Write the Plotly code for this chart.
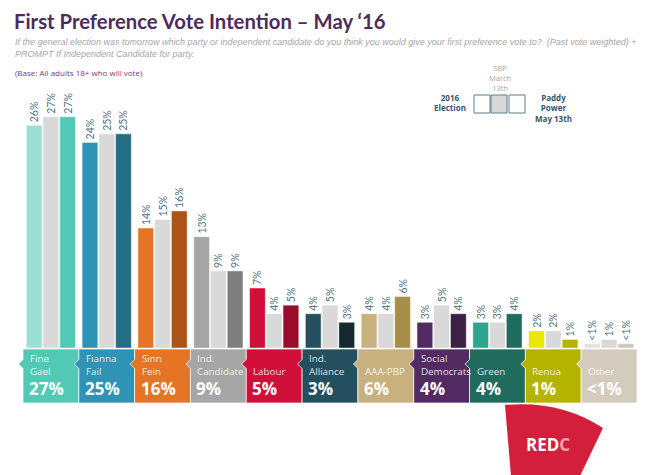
import plotly.graph_objects as go

# ---------------- data ----------------
parties = ["Fine Gael", "Fianna Fail", "Sinn Fein", "Ind. Candidate", "Labour",
           "Ind. Alliance", "AAA-PBP", "Social Democrats", "Green", "Renua", "Other"]
party_box_labels = ["Fine<br>Gael", "Fianna<br>Fail", "Sinn<br>Fein", "Ind.<br>Candidate", "Labour",
                    "Ind.<br>Alliance", "AAA-PBP", "Social<br>Democrats", "Green", "Renua", "Other"]
election_2016 = [26, 24, 14, 13, 7, 4, 4, 3, 3, 2, 0.5]
sbp_march_13 = [27, 25, 15, 9, 4, 5, 4, 5, 3, 2, 1]
paddy_power_may_13 = [27, 25, 16, 9, 5, 3, 6, 4, 4, 1, 0.5]
series_names = ["2016 Election", "SBP March 13th", "Paddy Power May 13th"]

election_colors = ["#9be0d3", "#2e93b4", "#e57424", "#a6a6a6", "#d11039", "#234f5f",
                   "#c9b17f", "#532b62", "#2fa38e", "#e8e800", "#e6e1d9"]
sbp_color = "#d9d9d9"
pp_colors = ["#52c9b4", "#236f86", "#ad5316", "#7f7f7f", "#9b0b2a", "#142a33",
             "#a88e4b", "#3d2046", "#1f6b5d", "#b4b400", "#cfc6b8"]
box_colors = ["#52c9b4", "#2e93b4", "#e57424", "#a6a6a6", "#d11039", "#234f5f",
              "#c9b17f", "#532b62", "#206b5e", "#b4b400", "#d3cbbe"]


def lab(v):
    return "<1%" if v < 1 else f"{v:g}%"


# ---------------- geometry helpers ----------------
W, H = 650, 475
ML, MR, MT, MB = 23, 13, 91, 127
PW, PH = W - ML - MR, H - MT - MB
N = len(parties)


def px(x):
    return (x - ML) / PW


def py(y):
    return (H - MB - y) / PH


x = list(range(N))
fig = go.Figure()
label_font = dict(family="Lato, sans-serif", size=10.5, color="#557585")
for name, vals, col in [(series_names[0], election_2016, election_colors),
                        (series_names[1], sbp_march_13, [sbp_color] * N),
                        (series_names[2], paddy_power_may_13, pp_colors)]:
    fig.add_trace(go.Bar(
        x=x, y=vals, name=name,
        marker=dict(color=col, line=dict(color="rgba(255,255,255,0.45)", width=1)),
        text=[lab(v) for v in vals], textposition="outside", textangle=-90,
        textfont=label_font, constraintext="none", cliponaxis=False,
        showlegend=False, hoverinfo="skip"))

shapes = []
annotations = []

# category boxes below the bars
top_y, bot_y, mid_y = py(349), py(403), py(364)
notch_w = 4.5 / PW
notch_h = 4.5 / PH
for i in range(N):
    l = i / N
    r = (i + 1) / N
    path = (f"M {l},{top_y} L {r},{top_y} L {r},{bot_y} L {l},{bot_y} "
            f"L {l},{mid_y - notch_h} L {l - notch_w},{mid_y} L {l},{mid_y + notch_h} Z")
    shapes.append(dict(type="path", xref="paper", yref="paper", path=path,
                       fillcolor=box_colors[i], line=dict(color="rgba(255,255,255,0.7)", width=1),
                       layer="above"))
    annotations.append(dict(xref="paper", yref="paper", x=l + 5 / PW, y=py(380),
                            xanchor="left", yanchor="bottom", showarrow=False, align="left",
                            text=party_box_labels[i],
                            font=dict(family="Open Sans, sans-serif", size=9.8,
                                      color="rgba(255,255,255,0.85)")))
    annotations.append(dict(xref="paper", yref="paper", x=l + 4 / PW, y=py(388),
                            xanchor="left", yanchor="middle", showarrow=False, align="left",
                            text=f"<b>{lab(paddy_power_may_13[i])}</b>",
                            font=dict(family="Open Sans, sans-serif", size=17, color="white")))

# title & subtitle
annotations.append(dict(xref="paper", yref="paper", x=px(12), y=py(21), xanchor="left",
                        yanchor="middle", showarrow=False,
                        text="<b>First Preference Vote Intention – May ‘16</b>",
                        font=dict(family="Lato, sans-serif", size=20.3, color="#4f2a5c")))
annotations.append(dict(xref="paper", yref="paper", x=px(13), y=py(48), xanchor="left",
                        yanchor="middle", showarrow=False, align="left",
                        text="<i>If the general election was tomorrow which party or independent candidate do you think you would give your first preference vote to?  (Past vote weighted) +<br>PROMPT If Independent Candidate for party.</i>",
                        font=dict(family="Liberation Sans, Arial, sans-serif", size=9,
                                  color="#a6a6a6")))
annotations.append(dict(xref="paper", yref="paper", x=px(13), y=py(72), xanchor="left",
                        yanchor="middle", showarrow=False,
                        text="(Base: All adults 18+ who will vote)",
                        font=dict(family="Open Sans, sans-serif", size=8, color="#7a3a78")))

# custom legend
leg_boxes = [(474, "white"), (491, sbp_color), (509, "white")]
for bx, fc in leg_boxes:
    shapes.append(dict(type="rect", xref="paper", yref="paper", x0=px(bx), x1=px(bx + 16),
                       y0=py(113), y1=py(95), fillcolor=fc,
                       line=dict(color="#5f7f8f", width=1)))
annotations.append(dict(xref="paper", yref="paper", x=px(450), y=py(103), xanchor="center",
                        yanchor="middle", showarrow=False, text="<b>2016<br>Election</b>",
                        font=dict(family="Open Sans, sans-serif", size=8, color="#34556a")))
annotations.append(dict(xref="paper", yref="paper", x=px(500), y=py(78), xanchor="center",
                        yanchor="middle", showarrow=False, text="SBP<br>March<br>13th",
                        font=dict(family="Open Sans, sans-serif", size=7.5, color="#a6a6a6")))
annotations.append(dict(xref="paper", yref="paper", x=px(553), y=py(108), xanchor="center",
                        yanchor="middle", showarrow=False, text="<b>Paddy<br>Power<br>May 13th</b>",
                        font=dict(family="Open Sans, sans-serif", size=8, color="#34556a")))

# REDC logo
logo = (f"M {px(505)},{py(405)} Q {px(560)},{py(400)} {px(603)},{py(428)} "
        f"L {px(580)},{py(476)} L {px(511)},{py(476)} Z")
shapes.append(dict(type="path", xref="paper", yref="paper", path=logo,
                   fillcolor="#d41f3c", line=dict(width=0), layer="above"))
annotations.append(dict(xref="paper", yref="paper", x=px(548), y=py(444), xanchor="center",
                        yanchor="middle", showarrow=False,
                        text="<b>RED<span style='color:#f4a3ab'>C</span></b>",
                        font=dict(family="Open Sans, sans-serif", size=17, color="white")))

fig.update_layout(
    width=W, height=H, margin=dict(l=ML, r=MR, t=MT, b=MB, pad=0),
    paper_bgcolor="white", plot_bgcolor="white",
    barmode="group", bargap=0.1, bargroupgap=0.06,
    xaxis=dict(range=[-0.5, N - 0.5], visible=False, fixedrange=True),
    yaxis=dict(range=[0, 30], visible=False, fixedrange=True),
    shapes=shapes, annotations=annotations, showlegend=False,
)

fig.write_html("out.html", config={"displayModeBar": False},
               post_script="document.body.style.margin='0';document.body.style.overflow='hidden';")
